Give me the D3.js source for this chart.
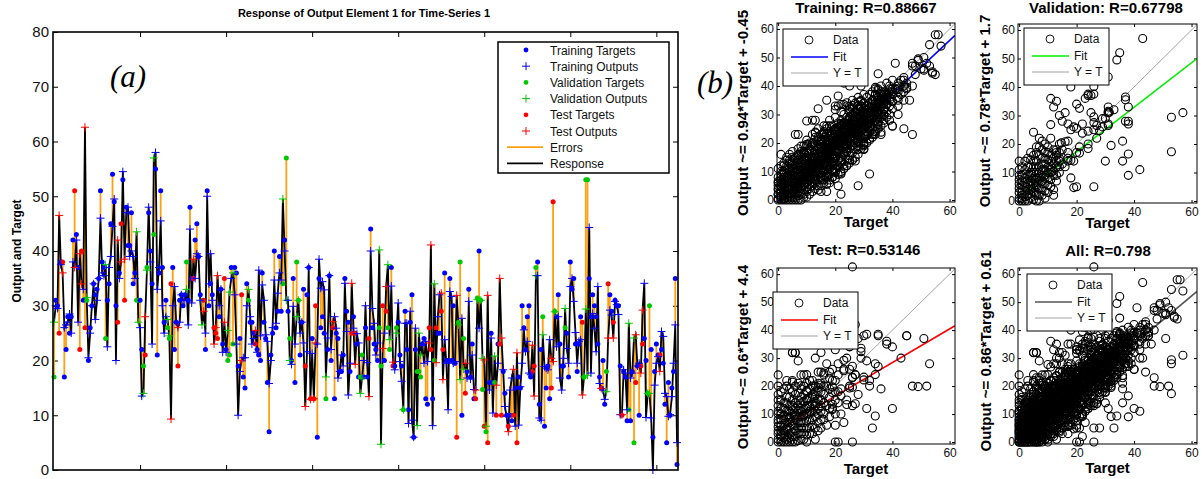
<!DOCTYPE html>
<html>
<head>
<meta charset="utf-8">
<script src="https://cdn.jsdelivr.net/npm/d3@7"></script>
<style>
body { margin: 0; background: #fff; }
svg { display: block; font-family: "Liberation Sans", Arial, sans-serif; }
</style>
</head>
<body>
<div id="chart"></div>
<script>
// ---------- time-series data (t = training, v = validation, s = test) ----------
let tsSetRows = [
    "vttststttt", "ttsttsstsv", "tttttttttt", "vttttttsts", "tsttttttvv", "ttvsvtttvt",
    "ttttttvvst", "ttsttttvtt", "tsttttvstt", "tttsssttts", "tvvtvtttts", "tttvtttstt",
    "tttttttttt", "tttvtvtvtt", "tvvtttstts", "tsstttttvt", "ttsttttttt", "tttststtvv",
    "tttstttttv", "vstsvvtstv", "tttvtttttt", "tvvvttttss", "tvsttssttt", "ttttsvvtvs", "tttt",
    "tsvtvvsvst", "ttvstssttt", "sttststttt", "ttttssvttt", "vttttssvtt", "tttvtttttt",
    "tttsvvvttt", "ttttsttvst", "tsttttsttt", "vttvsttsst", "tvvtttttst", "ttttttttt"
];

let tsTarget = [
    17, 31, 30, 25, 38, 38, 17, 22, 28, 25,
    28, 42, 51, 43, 37, 22, 40, 31, 26, 31,
    20, 26, 30, 34, 32, 33, 35, 51, 38, 37,
    24, 31, 34, 45, 54, 49, 30, 27, 36, 45,
    53, 31, 48, 41, 41, 47, 34, 36, 31, 31,
    31, 22, 19, 21, 37, 47, 40, 34, 43, 55,
    21, 36, 51, 37, 27, 31, 26, 24, 34, 37,
    22, 27, 19, 31, 32, 30, 32, 38, 31, 48,
    35, 35, 42, 45, 39, 32, 31, 31, 22, 51,
    30, 34, 32, 26, 25, 24, 28, 33, 23, 35,
    22, 20, 21, 37, 23, 37, 36, 19, 24, 32,
    17, 15, 34, 31, 27, 27, 25, 23, 22, 21,
    20, 36, 27, 24, 16, 7, 21, 25, 40, 26,
    29, 39, 29, 34, 42, 57, 29, 24, 20, 35,
    16, 38, 31, 21, 27, 33, 19, 32, 37, 13,
    24, 13, 30, 6, 35, 26, 28, 25, 13, 22,
    35.5, 20, 26, 13, 25, 24, 18, 18, 21, 35,
    29, 27, 18, 25, 28, 25, 23, 17, 17, 21,
    17, 26, 17, 24, 44, 26, 23, 22, 20, 26,
    19, 30, 20, 29, 26, 22, 37, 19, 19, 26,
    27, 21, 19, 11, 29, 22, 11, 27, 32, 6,
    22, 18, 18, 17, 23, 24, 13, 12, 26, 22,
    13, 20, 26, 25, 25, 29, 22, 36, 20, 20,
    35, 20, 30, 19.5, 6, 27, 38, 10, 24, 14,
    18, 33, 17, 23,
    13, 13, 31.4, 40, 31, 14.7, 8, 7, 5, 16,
    25, 16, 16, 10, 23, 23, 10, 18, 14, 10,
    8, 10, 9, 10, 15, 5, 17, 15, 30, 26,
    22, 28, 30, 17, 18, 19, 37, 38, 12, 22,
    28, 8, 15, 19, 13, 15, 49, 29, 28, 32,
    23, 19, 19, 26, 25, 17, 38, 33, 35, 23,
    18, 23, 28, 27, 17, 53, 53, 35, 28, 32,
    30, 28, 23, 17, 15, 20, 12, 18, 34, 32,
    29, 27, 31, 30, 30, 19, 10, 18, 17, 9,
    11, 9, 18, 5, 16, 19, 10, 19, 23, 24,
    20, 14, 30, 22, 6, 18, 23, 21, 21, 22,
    19.5, 12, 5, 16, 10, 15, 18, 35, 1
];

let tsOutput = [
    27, 30, 29.5, 46.5, 37.5, 36, 26, 26.5, 27, 28.5,
    25, 38, 37, 42, 27, 39.5, 34, 33, 62.6, 31.5,
    20.5, 25, 30, 34, 27.5, 31, 35, 46, 36, 35.5,
    37.5, 22.5, 37, 39, 44.5, 49.5, 20, 42, 35, 38,
    54.5, 38.5, 47, 48, 39, 40, 39, 35, 43.5, 27,
    26, 13.5, 14, 28, 36.5, 48, 38, 23, 57, 58,
    33, 37, 45.5, 30, 25, 28, 27.5, 24.5, 9.3, 30,
    33.5, 27, 26, 27, 32, 31, 31, 33, 26.5, 44,
    30.5, 38.5, 35, 39.5, 39, 31, 26.5, 29, 25, 50,
    34, 39.5, 31, 23, 26, 35.5, 30, 33, 21.5, 27,
    21.5, 25.5, 32.5, 35, 36, 32, 23, 10, 18, 20,
    20.5, 20.5, 30, 33, 28, 23, 24, 25.5, 21.5, 36.5,
    24.5, 33.8, 31, 24.7, 23.5, 15.8, 20, 26, 34.7, 26.8,
    32.3, 36, 34.7, 49.5, 40, 31, 31, 20, 19.3, 29.9,
    23, 28, 31, 25, 27, 23.2, 11.6, 21.6, 37, 12.9,
    21.3, 13, 23.2, 23, 38.5, 33.2, 34.4, 32.9, 17, 24.1,
    35.5, 22, 27.1, 28, 25.9, 16.8, 18, 21, 19, 34.1,
    25.3, 13.7, 19.5, 34.1, 25.9, 19.3, 24.9, 23.2, 14, 16.8,
    20, 30, 19.6, 13.4, 40, 29.5, 26.8, 21, 23.2, 40.2,
    4.7, 22.2, 25, 33.5, 37.5, 23.8, 33.6, 19.7, 18.3, 25,
    30.5, 19.8, 16.2, 11, 26.8, 26.8, 8.5, 29, 9.1, 6,
    25.9, 8.1, 25, 21, 22.8, 19.5, 23.5, 19.8, 23.2, 41.1,
    8.1, 34, 19.6, 28, 32, 32.3, 16.5, 23.8, 19.5, 11,
    32.6, 31.7, 19.5, 19.8, 31.9, 26.5, 16.5, 27.7, 18.4, 19.5,
    16.8, 30.8, 16.6, 21,
    14.7, 14.6, 31.1, 25.9, 31, 20.4, 20.1, 8, 31.9, 14.6,
    24.1, 10.4, 20.8, 15.5, 19.5, 35, 24.1, 18.3, 11.6, 9.8,
    7, 14.6, 16.8, 18.4, 8, 21.4, 8.2, 15.2, 19.5, 25.6,
    21.6, 23.5, 17.7, 17.4, 22.8, 13.5, 35.5, 35.5, 9.5, 9.1,
    24.7, 18.9, 18.6, 18.3, 23.8, 20.4, 19.8, 28.9, 22.5, 28,
    16.8, 14.6, 20.4, 29.5, 22.2, 19.5, 33.5, 35, 30.8, 25.1,
    19.5, 23.5, 23.8, 13.7, 17, 29.4, 17.3, 44.3, 17.7, 28.6,
    25.9, 21.6, 33.5, 15.8, 14.9, 14.6, 12.9, 14.3, 24.1, 29.2,
    28.3, 24.1, 30.8, 30.2, 28.4, 10.1, 10.1, 18.3, 17.7, 11,
    26.8, 16.8, 17.7, 24.1, 24.7, 19, 19.5, 17.7, 29.2, 34.1,
    9.6, 14, 14, 9.5, 0, 15.5, 19.5, 20.7, 18, 25.3,
    24.4, 14, 13.4, 9.8, 10.1, 13.4, 19.5, 26.5, 5
];

let tsYTicks = [0, 10, 20, 30, 40, 50, 60, 70, 80];
let tsXTicks = [50, 100, 150, 200, 250, 300, 350];
let tsLegendLabels = ["Training Targets", "Training Outputs", "Validation Targets", "Validation Outputs",
                      "Test Targets", "Test Outputs", "Errors", "Response"];

// ---------- extra regression points [target, output] (other series, not in the time plot) ----------
let trainingExtra = [
    [0,0],[0,2],[0,4],[0,6],[1,1],[1,3],[1,5],[1,8],[1,10],[2,0],[2,2],[2,4],[2,7],[2,9],[2,12],
    [3,1],[3,3],[3,5],[3,8],[3,11],[3,14],[4,0],[4,2],[4,4],[4,6],[4,9],[4,13],[5,1],[5,3],[5,5],
    [5,7],[5,10],[5,12],[5,15],[6,2],[6,4],[6,6],[6,8],[6,11],[6,14],[7,0],[7,3],[7,5],[7,7],[7,9],
    [7,12],[7,16],[8,2],[8,4],[8,6],[8,8],[8,10],[8,13],[8,17],[9,1],[9,5],[9,7],[9,9],[9,11],[9,14],
    [10,3],[10,6],[10,8],[10,10],[10,12],[10,15],[10,19],
    [11,4],[11,8],[11,11],[11,13],[11,17],[12,6],[12,9],[12,12],[12,15],[12,20],[13,7],[13,10],[13,13],
    [13,16],[13,19],[14,5],[14,9],[14,12],[14,14],[14,18],[14,22],[15,3],[15,8],[15,11],[15,15],[15,17],
    [15,21],[16,7],[16,10],[16,13],[16,16],[16,19],[16,24],[17,3],[17,9],[17,12],[17,15],[17,18],[17,21],
    [18,6],[18,11],[18,14],[18,17],[18,20],[18,26],[19,8],[19,13],[19,16],[19,19],[19,22],[20,10],[20,15],
    [20,18],[20,21],[20,24],[20,33],[21,5],[21,12],[21,17],[21,20],[21,23],[22,2],[22,14],[22,19],[22,22],
    [22,26],[23,11],[23,16],[23,21],[23,24],[23,41],[24,12],[24,18],[24,23],[24,27],[25,14],[25,20],
    [25,25],[25,29],[25,40],
    [26,14],[26,19],[26,24],[26,28],[27,21],[27,26],[27,31],[27,44],[28,5],[28,20],[28,24],[28,29],
    [29,22],[29,27],[29,33],[29,40],[30,18],[30,25],[30,29],[31,23],[31,28],[32,26],[32,31],[33,22],
    [33,29],[34,24],[34,32],[35,27],[35,36],[36,30],[36,38],[37,32],[38,35],[39,28],[40,26],[40,37],
    [41,39],[42,30],[43,37],[44,25],[45,41],[46,35],[47,23],[47,47],[49,49],[50,46],[52,48],[53,47],
    [54,45],[55,44],[56,58],[57,54],[7,23],[12,28],[14,32],[17,35]
];

// dense core of the training cloud: [target, outputs at that target]
let trainingDense = [
    [0, [0.5, 2, 3.5, 5, 6.5, 8, 11]],
    [1, [0, 1.5, 3, 4.5, 6, 7, 9, 12, 16]],
    [2, [0.5, 1.5, 3, 5, 6, 8, 10, 13]],
    [3, [0, 2, 4, 6, 7, 9.5, 12, 15]],
    [4, [1, 2.5, 5, 7.5, 8, 10, 11, 14, 16]],
    [5, [0, 2, 4, 6, 8.5, 9, 11, 13, 17]],
    [6, [1, 3, 5, 7, 9.5, 10, 12, 15]],
    [7, [1.5, 4, 6, 8, 10.5, 11, 13, 14, 18]],
    [8, [0, 3, 5, 7, 9, 11.5, 12, 15, 16]],
    [9, [2, 3.5, 6, 8, 10, 12.5, 13, 16, 19]],
    [10, [1, 4.5, 7, 9, 11, 13.5, 14, 16.5, 17, 21]],
    [11, [2, 5.5, 7, 9, 10, 12, 14.5, 15, 18, 20]],
    [12, [3, 5, 7.5, 10, 11, 13, 14, 16.5, 19, 23]],
    [13, [4, 6, 8.5, 11, 12, 14, 15, 17.5, 20, 22]],
    [14, [3.5, 7, 10, 11, 13, 15.5, 16, 19, 20.5, 25]],
    [15, [5, 7, 9.5, 12, 13.5, 14, 16.5, 18, 19.5, 23]],
    [16, [6, 8.5, 11, 12, 14.5, 15, 17.5, 18, 21, 22, 26]],
    [17, [5.5, 8, 10.5, 13, 14, 16, 17, 19.5, 20, 23, 25]],
    [18, [7, 9, 12, 13.5, 15, 16, 18.5, 20, 22.5, 24, 28]],
    [19, [8, 10.5, 12, 14.5, 16, 18, 19.5, 21, 23, 26]],
    [20, [7.5, 11, 13, 15.5, 17, 19, 20.5, 22, 24, 25, 29]],
    [21, [9, 11.5, 14, 16.5, 18, 20, 21.5, 23, 25.5, 27]],
    [22, [10, 13, 15, 17, 18.5, 21, 22.5, 24, 26, 28, 31]],
    [23, [11, 12.5, 16, 18, 19.5, 22, 23.5, 25, 27, 30]],
    [24, [12, 14, 17, 19, 20.5, 22, 24.5, 26, 28, 29, 33]],
    [25, [13, 15.5, 18, 20, 21.5, 23, 25.5, 27, 29, 31]],
    [26, [14, 16.5, 19, 21, 22.5, 24, 26.5, 28, 30, 32, 35]],
    [27, [15, 18, 20, 22, 23.5, 25, 27.5, 29, 31, 34]],
    [28, [16, 19, 21, 23, 24.5, 26, 28.5, 30, 32, 33, 36]],
    [29, [18, 20, 22, 24, 25.5, 27, 29.5, 31, 33, 35]],
    [30, [19, 21.5, 23, 25, 26.5, 28, 30.5, 32, 34, 37]],
    [31, [20, 22.5, 24, 26, 28, 30, 31.5, 33, 36]],
    [32, [21, 24, 25.5, 27, 29, 31, 32.5, 34, 37]],
    [33, [23, 25, 27, 28.5, 30, 32, 33.5, 35, 38]],
    [34, [24, 26, 28, 30, 31.5, 33, 35, 37]],
    [35, [25, 27.5, 29, 31, 33, 34, 36, 39]],
    [36, [26, 29, 31, 33, 35, 37, 40]],
    [37, [28, 30, 32, 34, 36, 38]],
    [38, [29, 31, 33.5, 36, 37, 41]],
    [39, [30, 33, 35, 38, 40]],
    [40, [32, 34.5, 37, 39, 42]],
    [42, [33, 36, 39, 41]],
    [44, [35, 38, 42, 43]]
];

let validationExtra = [
    [0,0],[0,3],[0,6],[0,9],[0,14],[1,1],[1,4],[1,7],[1,2],[2,0],[2,5],[2,8],[2,11],[3,2],[3,6],
    [3,9],[3,15],[4,1],[4,4],[4,7],[4,12],[4,17],[5,3],[5,6],[5,10],[5,14],[6,0],[6,5],[6,8],[6,12],
    [6,19],[7,2],[7,7],[7,10],[7,16],[7,22],[8,4],[8,9],[8,13],[8,18],[9,1],[9,6],[9,11],[9,15],[9,20],
    [10,3],[10,8],[10,12],[10,17],[11,5],[11,10],[11,14],[11,36],[12,2],[12,9],[12,13],[12,18],[12,33],
    [13,7],[13,12],[13,16],[13,35],[14,10],[14,15],[14,30],[15,13],[15,18],[15,28],[16,12],[16,31],
    [17,15],[18,40],[19,26],[20,17],[20,5],[21,19],[22,27],[24,37],[25,37],[25,31],[26,5],[27,22],
    [29,26],[30,29],[32,19.5],[33,32],[35,52],[36,21],[37,28],[38,27],[38,9],[42,11],[36,14]
];

let validationDense = [
    [0, [1, 4.5, 7.5, 11]],
    [1, [0, 3, 5.5, 9, 12]],
    [2, [1.5, 3.5, 6.5, 9.5, 14]],
    [3, [0, 4, 7.5, 12]],
    [4, [2.5, 5.5, 9, 10, 14.5]],
    [5, [0.5, 4.5, 8, 12, 16]],
    [6, [2, 3, 6.5, 10, 14, 17]],
    [7, [0, 4.5, 8.5, 12, 19]],
    [8, [2, 6, 7, 11, 15, 21]],
    [9, [3.5, 8, 9, 13, 17]],
    [10, [5.5, 10, 14.5, 19]],
    [11, [7.5, 12, 16, 22]],
    [12, [4, 10.5, 15]],
    [13, [9, 14, 18]],
    [14, [12, 17, 20]]
];

let testExtra = [
    [0,0],[0,4],[0,8],[0,13],[0,17],[0,20],[0,24],[1,2],[1,6],[1,10],[1,15],[2,0],[2,4],[2,8],[2,12],
    [2,19],[3,1],[3,5],[3,9],[3,14],[3,22],[4,0],[4,3],[4,7],[4,11],[4,16],[5,2],[5,6],[5,10],[5,13],
    [5,18],[5,32],[6,0],[6,4],[6,8],[6,12],[6,20],[6,32],[7,3],[7,7],[7,11],[7,15],[7,29],[8,1],[8,5],
    [8,9],[8,14],[8,19],[9,3],[9,7],[9,12],[9,17],[9,24],[10,0],[10,5],[10,10],[10,15],[10,21],[11,3],
    [11,8],[11,13],[11,19],[12,6],[12,11],[12,16],[12,22],[13,1],[13,9],[13,14],[13,20],[13,30],[14,4],
    [14,12],[14,18],[14,25],[15,8],[15,15],[15,21],[15,32],[16,10],[16,17],[16,24],[17,6],[17,13],
    [17,20],[17,28],[18,9],[18,16],[18,35],[19,12],[19,22],[20,0],[20,6],[20,18],[20,33],[21,0],[21,14],
    [21,24],[22,10],[22,19],[22,35],[23,7],[23,26],[24,15],[24,30],[25,20],[25,34],[26,0],[26,13],
    [27,24],[28,37],[28,17],[29,30],[30,38],[31,12],[32,22],[33,5],[34,28],[35,38],[36,19],[38,35],
    [40,12],[43,30],[45,38],[47,20],[52,20],[53,28]
];

let testDense = [
    [0, [1, 3, 5.5, 7, 10, 11, 15]],
    [1, [0, 2.5, 4, 8, 12, 18]],
    [2, [1.5, 3, 6, 9.5, 14]],
    [3, [0, 2, 4.5, 7, 11, 16, 20]],
    [4, [1.5, 5, 8.5, 9, 13, 19]],
    [5, [0, 3.5, 7.5, 11.5, 15, 22]],
    [6, [2, 6, 9.5, 10, 14, 17]],
    [7, [0.5, 5, 9, 13, 17.5, 21]],
    [8, [3, 7, 11, 12, 16, 24]],
    [9, [1, 5, 9.5, 10, 14.5, 20]],
    [10, [2.5, 7.5, 12, 13, 18]],
    [11, [5, 10, 11, 15.5, 22]],
    [12, [3, 8, 13.5, 17, 20]],
    [13, [5, 11, 16.5, 18]],
    [14, [7, 10, 15, 21]],
    [15, [5, 11, 13, 18, 25]],
    [16, [8, 14, 20]],
    [18, [12, 19, 25]],
    [20, [10, 15, 22]]
];

let panelNames = ["Training", "Validation", "Test", "All"];
let panelR = ["0.88667", "0.67798", "0.53146", "0.798"];
let fitSlope = [0.94, 0.78, 0.6, 0.86];
let fitIntercept = [-0.45, 1.7, 4.4, 0.61];
let fitColors = ["#0000ff", "#00ee00", "#ff0000", "#555555"];
let scatterYTicks = [0, 10, 20, 30, 40, 50, 60];
let scatterXTicks = [0, 20, 40, 60];

// ---------- layout ----------
let width = 1202, height = 479;
let font = "'Liberation Sans', Arial, sans-serif";
let setColor = { t: "#0000ff", v: "#00c800", s: "#ff0000" };

let svg = d3.select("#chart").append("svg").attr("width", width).attr("height", height);

// ================= left: time-series response =================
let tsSet = tsSetRows.join("").split("");
let n = Math.min(tsSet.length, tsTarget.length, tsOutput.length);
let tsData = d3.range(n).map(i => ({ i: i, set: tsSet[i], t: tsTarget[i], o: tsOutput[i] }));

let box = { x0: 53, x1: 678, y0: 32, y1: 470 };
let tx = d3.scaleLinear().domain([0, n - 1]).range([box.x0 + 1, box.x1 - 1]);
let txTicks = d3.scaleLinear().domain([0, 362]).range([box.x0 + 1, box.x1 - 1]);
let ty = d3.scaleLinear().domain([0, 80]).range([box.y1, box.y0]);

let tsG = svg.append("g");

// axes with inward ticks
function styleAxis(g, size) {
    g.attr("font-family", font).attr("font-size", size);
    g.select(".domain").remove();
    g.selectAll(".tick line").attr("stroke", "#000").attr("stroke-width", 1);
    g.selectAll("text").attr("fill", "#111");
}
tsG.append("g").attr("transform", `translate(${box.x0},0)`)
    .call(d3.axisLeft(ty).tickValues(tsYTicks).tickSizeInner(-5).tickSizeOuter(0).tickPadding(4))
    .call(g => styleAxis(g, 15));
tsG.append("g").attr("transform", `translate(${box.x1},0)`)
    .call(d3.axisRight(ty).tickValues(tsYTicks.slice(1, -1)).tickSizeInner(-5).tickSizeOuter(0).tickFormat(""))
    .call(g => styleAxis(g, 15));
tsG.append("g").attr("transform", `translate(0,${box.y0})`)
    .call(d3.axisTop(txTicks).tickValues(tsXTicks).tickSizeInner(-5).tickSizeOuter(0).tickFormat(""))
    .call(g => styleAxis(g, 15));
tsG.append("g").attr("transform", `translate(0,${box.y1})`)
    .call(d3.axisBottom(txTicks).tickValues(tsXTicks).tickSizeInner(-5).tickSizeOuter(0).tickFormat(""))
    .call(g => styleAxis(g, 15));

// errors
tsG.append("g").selectAll("line").data(tsData).enter().append("line")
    .attr("x1", d => tx(d.i)).attr("x2", d => tx(d.i))
    .attr("y1", d => ty(d.t)).attr("y2", d => ty(d.o))
    .attr("stroke", "#ffa010").attr("stroke-width", 1.8);

// response
tsG.append("path").datum(tsData)
    .attr("d", d3.line().x(d => tx(d.i)).y(d => ty(d.o)))
    .attr("fill", "none").attr("stroke", "#000").attr("stroke-width", 1.8)
    .attr("stroke-linejoin", "miter");

// targets
tsG.append("g").selectAll("circle").data(tsData).enter().append("circle")
    .attr("cx", d => tx(d.i)).attr("cy", d => ty(d.t)).attr("r", 2.5)
    .attr("fill", d => setColor[d.set]);

// outputs
let plus = "M-4,0H4M0,-4V4";
tsG.append("g").selectAll("path").data(tsData).enter().append("path")
    .attr("transform", d => `translate(${tx(d.i)},${ty(d.o)})`)
    .attr("d", plus).attr("stroke", d => setColor[d.set]).attr("stroke-width", 1).attr("fill", "none");

// frame
tsG.append("rect").attr("x", box.x0).attr("y", box.y0)
    .attr("width", box.x1 - box.x0).attr("height", box.y1 - box.y0)
    .attr("fill", "none").attr("stroke", "#000").attr("stroke-width", 1.6);

// title and label
tsG.append("text").attr("x", 364).attr("y", 17).attr("text-anchor", "middle")
    .attr("font-family", font).attr("font-size", 11).attr("font-weight", "bold")
    .text("Response of Output Element 1 for Time-Series 1");
tsG.append("text").attr("transform", "translate(21,251) rotate(-90)").attr("text-anchor", "middle")
    .attr("font-family", font).attr("font-size", 12).attr("font-weight", "bold")
    .text("Output and Target");
svg.append("text").attr("x", 110).attr("y", 87)
    .attr("font-family", "'Liberation Serif', 'Times New Roman', serif").attr("font-style", "italic")
    .attr("font-size", 31).text("(a)");

// legend
let lg = tsG.append("g").attr("transform", "translate(498,42)");
lg.append("rect").attr("width", 171).attr("height", 131).attr("fill", "#fff")
    .attr("stroke", "#000").attr("stroke-width", 1.5);
let legendColors = ["t", "t", "v", "v", "s", "s"];
tsLegendLabels.forEach((label, k) => {
    let yy = 8 + k * 16.2;
    if (k < 6) {
        if (k % 2 === 0) {
            lg.append("circle").attr("cx", 28).attr("cy", yy).attr("r", 2.4).attr("fill", setColor[legendColors[k]]);
        } else {
            lg.append("path").attr("transform", `translate(28,${yy})`).attr("d", plus)
                .attr("stroke", setColor[legendColors[k]]).attr("stroke-width", 1);
        }
    } else {
        lg.append("line").attr("x1", 9).attr("x2", 45).attr("y1", yy).attr("y2", yy)
            .attr("stroke", k === 6 ? "#ffa010" : "#000").attr("stroke-width", 1.8);
    }
    lg.append("text").attr("x", 52).attr("y", yy + 4.5)
        .attr("font-family", font).attr("font-size", 12).attr("fill", "#111").text(label);
});

// ================= right: regression panels =================
function pairsOf(setCode) {
    return tsData.filter(d => d.set === setCode).map(d => [d.t, d.o]);
}
function unpack(rows) {
    return rows.flatMap(r => r[1].map(o => [r[0], o]));
}
let trainingPairs = pairsOf("t").concat(trainingExtra, unpack(trainingDense));
let validationPairs = pairsOf("v").concat(validationExtra, unpack(validationDense));
let testPairs = pairsOf("s").concat(testExtra, unpack(testDense));
let allPairs = trainingPairs.concat(validationPairs, testPairs);
let panelData = [trainingPairs, validationPairs, testPairs, allPairs];

let panelBox = [
    { x0: 777, x1: 955, y0: 23, y1: 202, yDom: [-0.7, 62.1] },
    { x0: 1018, x1: 1197, y0: 24, y1: 203, yDom: [-0.7, 62.1] },
    { x0: 777, x1: 955, y0: 268, y1: 444, yDom: [-0.7, 62.2] },
    { x0: 1018, x1: 1197, y0: 268, y1: 444, yDom: [-0.7, 62.2] }
];
let titlePos = [[866, 13], [1106, 13], [864, 255], [1108, 256]];
let ylabelPos = [[748, 113], [990, 111], [748, 357], [991, 351]];
let xlabelY = [227, 228, 474, 473];
let legendPos = [[783, 29], [1024, 28], [773, 292], [1027, 274]];

panelData.forEach((pts, k) => {
    let b = panelBox[k];
    let xs = d3.scaleLinear().domain([-0.4, 61.9]).range([b.x0, b.x1]);
    let ys = d3.scaleLinear().domain(b.yDom).range([b.y1, b.y0]);
    let g = svg.append("g");

    let clipId = "clip" + k;
    g.append("clipPath").attr("id", clipId).append("rect")
        .attr("x", b.x0).attr("y", b.y0).attr("width", b.x1 - b.x0).attr("height", b.y1 - b.y0);

    g.append("g").attr("transform", `translate(${b.x0},0)`)
        .call(d3.axisLeft(ys).tickValues(scatterYTicks).tickSizeInner(-3).tickSizeOuter(0).tickPadding(3))
        .call(a => styleAxis(a, 12));
    g.append("g").attr("transform", `translate(0,${b.y1})`)
        .call(d3.axisBottom(xs).tickValues(scatterXTicks).tickSizeInner(-3).tickSizeOuter(0).tickPadding(4))
        .call(a => styleAxis(a, 12));
    g.append("g").attr("transform", `translate(${b.x1},0)`)
        .call(d3.axisRight(ys).tickValues(scatterYTicks).tickSizeInner(-3).tickSizeOuter(0).tickFormat(""))
        .call(a => styleAxis(a, 12));
    g.append("g").attr("transform", `translate(0,${b.y0})`)
        .call(d3.axisTop(xs).tickValues(scatterXTicks).tickSizeInner(-3).tickSizeOuter(0).tickFormat(""))
        .call(a => styleAxis(a, 12));

    // Y = T and fit lines
    let dom = xs.domain();
    let lines = g.append("g").attr("clip-path", `url(#${clipId})`);
    lines.append("line")
        .attr("x1", xs(dom[0])).attr("y1", ys(dom[0])).attr("x2", xs(dom[1])).attr("y2", ys(dom[1]))
        .attr("stroke", "#8a8a8a").attr("stroke-width", 0.8);
    lines.append("line")
        .attr("x1", xs(dom[0])).attr("y1", ys(fitSlope[k] * dom[0] + fitIntercept[k]))
        .attr("x2", xs(dom[1])).attr("y2", ys(fitSlope[k] * dom[1] + fitIntercept[k]))
        .attr("stroke", fitColors[k]).attr("stroke-width", 1.6);

    // data circles
    g.append("g").selectAll("circle").data(pts).enter().append("circle")
        .attr("cx", d => xs(d[0])).attr("cy", d => ys(d[1])).attr("r", 4)
        .attr("fill", "none").attr("stroke", "#000").attr("stroke-width", 1.1);

    g.append("rect").attr("x", b.x0).attr("y", b.y0).attr("width", b.x1 - b.x0).attr("height", b.y1 - b.y0)
        .attr("fill", "none").attr("stroke", "#000").attr("stroke-width", 1);

    // texts
    g.append("text").attr("x", titlePos[k][0]).attr("y", titlePos[k][1]).attr("text-anchor", "middle")
        .attr("font-family", font).attr("font-size", 15).attr("font-weight", "bold")
        .text(`${panelNames[k]}: R=${panelR[k]}`);
    g.append("text").attr("transform", `translate(${ylabelPos[k][0]},${ylabelPos[k][1]}) rotate(-90)`)
        .attr("text-anchor", "middle").attr("font-family", font).attr("font-size", 15).attr("font-weight", "bold")
        .text(`Output ~= ${fitSlope[k]}*Target + ${fitIntercept[k]}`);
    g.append("text").attr("x", (b.x0 + b.x1) / 2).attr("y", xlabelY[k]).attr("text-anchor", "middle")
        .attr("font-family", font).attr("font-size", 15).attr("font-weight", "bold").text("Target");

    // legend
    let L = g.append("g").attr("transform", `translate(${legendPos[k][0]},${legendPos[k][1]})`);
    L.append("rect").attr("width", 85).attr("height", 57).attr("fill", "#fff")
        .attr("stroke", "#000").attr("stroke-width", 1);
    L.append("circle").attr("cx", 26).attr("cy", 11).attr("r", 4)
        .attr("fill", "none").attr("stroke", "#000").attr("stroke-width", 0.9);
    L.append("line").attr("x1", 8).attr("x2", 45).attr("y1", 28).attr("y2", 28)
        .attr("stroke", fitColors[k]).attr("stroke-width", 1.6);
    L.append("line").attr("x1", 8).attr("x2", 45).attr("y1", 44).attr("y2", 44)
        .attr("stroke", "#8a8a8a").attr("stroke-width", 0.8);
    ["Data", "Fit", "Y = T"].forEach((s, j) => {
        L.append("text").attr("x", 50).attr("y", [11, 28, 44][j] + 4.3)
            .attr("font-family", font).attr("font-size", 12).attr("fill", "#111").text(s);
    });
});

svg.append("text").attr("x", 697).attr("y", 93)
    .attr("font-family", "'Liberation Serif', 'Times New Roman', serif").attr("font-style", "italic")
    .attr("font-size", 31).text("(b)");
</script>
</body>
</html>
